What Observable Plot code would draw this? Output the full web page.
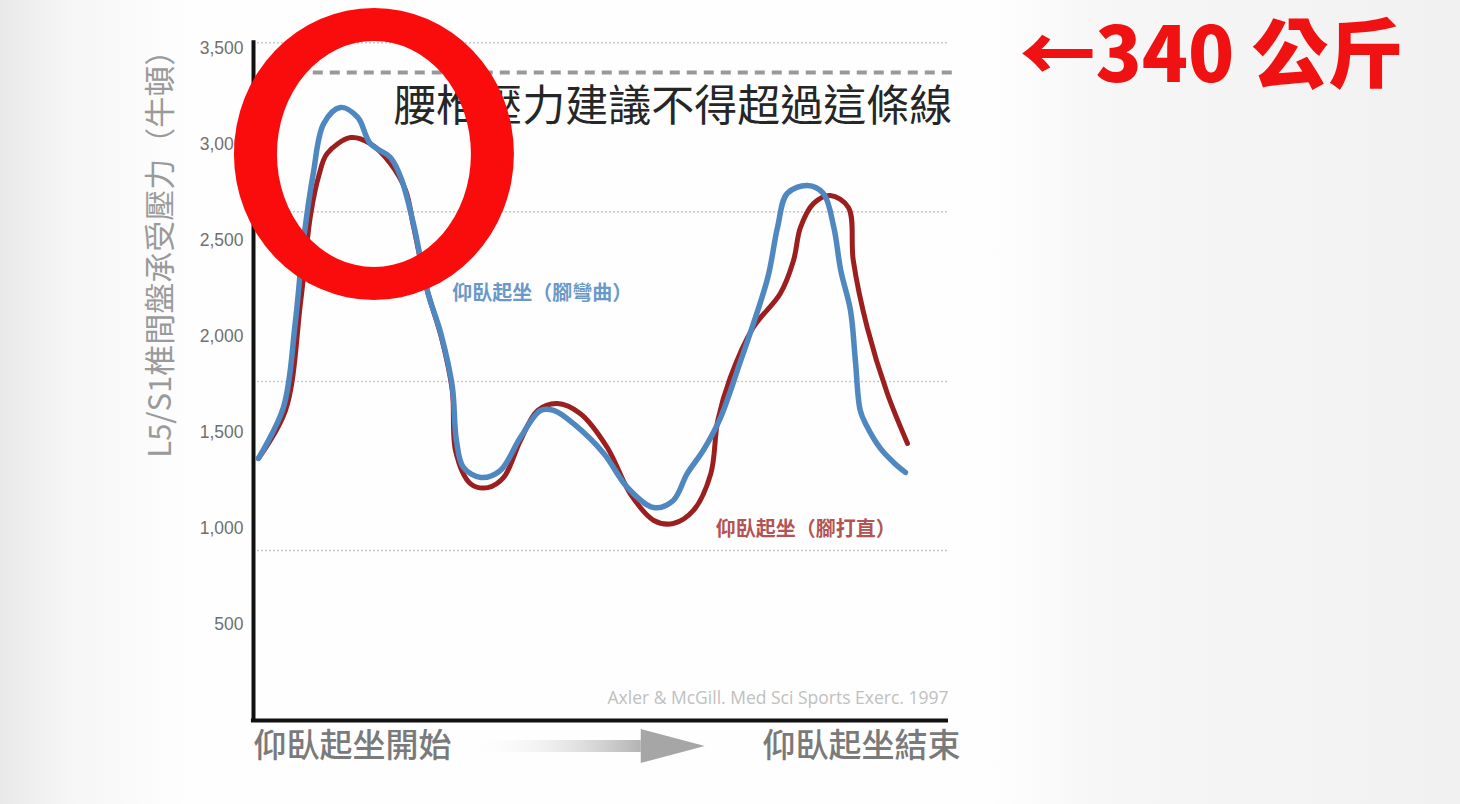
<!DOCTYPE html>
<html><head><meta charset="utf-8">
<script src="https://cdn.jsdelivr.net/npm/d3@7"></script>
<script src="https://cdn.jsdelivr.net/npm/@observablehq/plot@0.6"></script>
<style>
html,body{margin:0;padding:0;width:1460px;height:804px;overflow:hidden;}
body{background:linear-gradient(90deg,#e9e9e9 0px,#f6f6f6 70px,#fefefe 190px,#fefefe 990px,#f6f6f6 1110px,#f1f1f1 1460px);}
#chart svg{display:block;}
</style></head><body><div id="chart"></div>
<script>
// ---- data ----
const yTicks = [500, 1000, 1500, 2000, 2500, 3000, 3500];
const gridValues = [885, 1765, 2650, 3530];
const limitValue = [3375];
const limitText = "腰椎壓力建議不得超過這條線";
const limitNote = "←340 公斤";
const yTitle = "L5/S1椎間盤承受壓力（牛頓）";
const startLabel = "仰臥起坐開始";
const endLabel = "仰臥起坐結束";
const bentLabel = "仰臥起坐（腳彎曲）";
const straightLabel = "仰臥起坐（腳打直）";
const citation = ["Axler & McGill. ", "Med Sci Sports Exerc. 1997"];

// bent-knee sit-up (blue): time (% of movement) and L5/S1 compression (N)
const bentT = [0.7, 4.3, 6.0, 7.2, 8.6, 10.1, 12.5, 15.0, 16.8, 19.7, 21.2, 23.0, 25.0, 27.0, 28.6, 29.2, 30.2, 32.7, 35.5, 38.4, 41.3, 43.2, 46.0, 50.4, 53.8, 57.6, 60.4, 62.4, 64.7, 67.2, 70.1, 71.1, 74.0, 75.4, 76.8, 79.7, 82.0, 83.5, 84.5, 85.9, 86.6, 87.3, 88.2, 90.2, 92.1, 93.8];
const bentV = [1365, 1630, 2068, 2500, 2849, 3109, 3193, 3141, 3005, 2932, 2828, 2589, 2240, 2010, 1740, 1458, 1318, 1266, 1302, 1474, 1615, 1615, 1547, 1391, 1214, 1109, 1146, 1286, 1406, 1578, 1875, 1979, 2307, 2568, 2745, 2786, 2745, 2568, 2344, 2135, 1875, 1615, 1536, 1417, 1344, 1292];

// straight-leg sit-up (red)
const straightT = [0.7, 4.6, 6.8, 8.2, 9.4, 10.6, 14.0, 16.8, 19.7, 21.9, 23.0, 25.0, 27.0, 28.6, 29.1, 31.2, 33.7, 36.0, 38.4, 40.9, 43.7, 47.0, 50.9, 54.2, 57.6, 60.4, 63.3, 65.8, 66.8, 68.6, 71.9, 75.8, 77.7, 78.7, 80.6, 83.0, 85.6, 86.3, 88.3, 91.2, 94.1];
const straightV = [1365, 1615, 2187, 2630, 2838, 2953, 3036, 3005, 2901, 2760, 2578, 2240, 2000, 1720, 1400, 1234, 1213, 1266, 1458, 1615, 1651, 1599, 1422, 1182, 1042, 1026, 1094, 1286, 1562, 1786, 2047, 2224, 2396, 2568, 2693, 2734, 2672, 2396, 2047, 1703, 1443];

const highlight = [{t: 17.4, v: 2948}];
const progressArrow = [{from: 31.2, to: 65.0}];

const bent = bentT.map((t, i) => ({t, v: bentV[i]}));
const straight = straightT.map((t, i) => ({t, v: straightV[i]}));

const CJK = '"Noto Sans CJK TC","Noto Sans CJK SC","Noto Sans",sans-serif';
const LAT = '"Liberation Sans",Arial,sans-serif';

const chart = Plot.plot({
  width: 1460, height: 804,
  marginLeft: 253, marginRight: 512, marginTop: 48, marginBottom: 84,
  style: {background: "transparent", overflow: "visible"},
  x: {domain: [0, 100], axis: null},
  y: {domain: [0, 3500], axis: null},
  marks: [
    Plot.ruleY(gridValues, {x1: 0, x2: 100, stroke: "#c8c8c8", strokeWidth: 1.5, strokeDasharray: "2,2"}),
    Plot.ruleY(limitValue, {x1: 8.6, x2: 101, stroke: "#999", strokeWidth: 4, strokeDasharray: "10,7"}),
    Plot.text([limitText], {x: 20.1, y: 3193, text: d => d, textAnchor: "start", fontSize: 43, fill: "#262626", fontFamily: CJK}),
    Plot.text(yTicks, {x: 0, y: d => d, text: d => d3.format(",")(d), dx: -10, textAnchor: "end", fontSize: 17.5, fill: "#707070", fontFamily: LAT, ariaLabel: "ytick"}),
    Plot.text([yTitle], {x: -13.3, y: 2470, text: d => d, rotate: -90, fontSize: 31, fill: "#9a9a9a", fontFamily: CJK, ariaLabel: "ytitle"}),
    Plot.ruleX([0], {y1: -10, y2: 3540, stroke: "#111", strokeWidth: 4}),
    Plot.ruleY([0], {x1: -0.3, x2: 100, stroke: "#111", strokeWidth: 4}),
    Plot.line(straight, {x: "t", y: "v", stroke: "#9c1f1f", strokeWidth: 5, curve: "catmull-rom", strokeLinecap: "round"}),
    Plot.line(bent, {x: "t", y: "v", stroke: "#4f87c0", strokeWidth: 5.5, curve: "catmull-rom", strokeLinecap: "round"}),
    Plot.text([bentLabel], {x: 28.6, y: 2224, text: d => d, textAnchor: "start", fontSize: 20, fontWeight: "bold", fill: "#6a98c8", fontFamily: CJK}),
    Plot.text([straightLabel], {x: 66.5, y: 995, text: d => d, textAnchor: "start", fontSize: 20, fontWeight: "bold", fill: "#b25454", fontFamily: CJK}),
    Plot.text([citation.join("")], {x: 100, y: 0, dy: -22, text: d => d, textAnchor: "end", fontSize: 17.5, fill: "#c0c0c0", fontFamily: '"Open Sans",sans-serif', ariaLabel: "citation"}),
    Plot.text([startLabel], {x: 0, y: 0, dy: 26, text: d => d, textAnchor: "start", fontSize: 33, fill: "#7a7a7a", fontFamily: CJK, fontWeight: 500}),
    Plot.text([endLabel], {x: 100, y: 0, dy: 26, dx: 12, text: d => d, textAnchor: "end", fontSize: 33, fill: "#7a7a7a", fontFamily: CJK, fontWeight: 500}),
    Plot.text([limitNote], {x: 110.2, y: 3450, text: d => d, textAnchor: "start", fontSize: 76, fontWeight: 900, fill: "#f01212", fontFamily: CJK, ariaLabel: "note"})
  ]
});
document.getElementById("chart").appendChild(chart);

const svg = d3.select(chart);
const sx = chart.scale("x"), sy = chart.scale("y");
const X = v => sx.apply(v), Y = v => sy.apply(v);

svg.selectAll('g[aria-label="ytick"] text').style("letter-spacing", "1.4px");
svg.selectAll('g[aria-label="ytitle"] text').style("letter-spacing", "3px");
svg.selectAll('g[aria-label="note"] text').style("letter-spacing", "6px");

// citation with italic journal
const cit = svg.select('g[aria-label="citation"] text');
cit.text(null);
cit.append("tspan").text(citation[0]);
cit.append("tspan").attr("font-style", "italic").style("font-style", "italic").text(citation[1]);

// progress arrow
const defs = svg.append("defs");
const a = progressArrow[0];
const ax0 = X(a.from), ax1 = X(a.to), ay = Y(0) + 26;
const g1 = defs.append("linearGradient").attr("id", "shaftGrad").attr("gradientUnits", "userSpaceOnUse")
  .attr("x1", ax0).attr("x2", ax1 - 60).attr("y1", 0).attr("y2", 0);
g1.append("stop").attr("offset", "0").attr("stop-color", "#ffffff").attr("stop-opacity", 0);
g1.append("stop").attr("offset", "1").attr("stop-color", "#b0b0b0");
const headX = ax1 - 64;
svg.append("rect").attr("x", ax0).attr("y", ay - 6).attr("width", headX - ax0).attr("height", 12).attr("fill", "url(#shaftGrad)");
svg.append("path").attr("d", `M${headX},${ay - 17}L${ax1},${ay}L${headX},${ay + 17}Z`).attr("fill", "#a6a6a6");

// red highlight ring
const h = highlight[0];
const cx = X(h.t), cy = Y(h.v);
const ell = (rx, ry) => `M${cx - rx},${cy}a${rx},${ry} 0 1,0 ${2 * rx},0a${rx},${ry} 0 1,0 ${-2 * rx},0Z`;
svg.append("path").attr("d", ell(140, 146) + ell(97, 113)).attr("fill", "#fb0c0c").attr("fill-rule", "evenodd");
</script>
</body></html>
